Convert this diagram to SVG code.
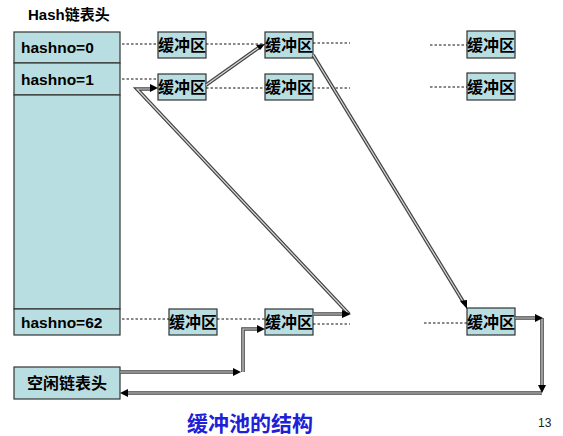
<svg xmlns="http://www.w3.org/2000/svg" width="563" height="436" viewBox="0 0 563 436">
<style>
.cell{fill:#b9dee2;stroke:#333;stroke-width:1.2}
.buf{fill:#b9dee2;stroke:#333;stroke-width:1.2}
.t{font-family:"Liberation Sans","Noto Sans CJK SC",sans-serif;font-weight:bold;fill:#000}
.bt{font-family:"Liberation Sans","Noto Sans CJK SC",sans-serif;font-weight:bold;font-size:16px;fill:#000;text-anchor:middle}
.dash{stroke:#111;stroke-width:1;stroke-dasharray:2.5,2;fill:none}
.outer{stroke:#444;stroke-width:3.6;fill:none;stroke-linejoin:miter}
.inner{stroke:#d8d8d8;stroke-width:1.2;fill:none;stroke-linejoin:miter}
</style>
<rect width="563" height="436" fill="#fff"/>
<text class="t" x="28" y="20" font-size="15">Hash链表头</text>
<g id="hashtable">
<rect class="cell" x="14" y="32" width="106" height="31"/>
<rect class="cell" x="14" y="63" width="106" height="32"/>
<rect class="cell" x="14" y="95" width="106" height="214"/>
<rect class="cell" x="14" y="309" width="106" height="26"/>
<text class="t" x="21" y="53" font-size="15.5">hashno=0</text>
<text class="t" x="21" y="85" font-size="15.5">hashno=1</text>
<text class="t" x="21" y="328" font-size="15.5">hashno=62</text>
</g>
<g id="freehead">
<rect class="cell" x="14" y="367" width="106" height="32"/>
<text class="t" x="67" y="389" font-size="16" text-anchor="middle">空闲链表头</text>
</g>
<g id="buf0a"><rect class="buf" x="158" y="32" width="48" height="26"/><text class="bt" x="182" y="51">缓冲区</text></g>
<g id="buf0b"><rect class="buf" x="265" y="32" width="48" height="26"/><text class="bt" x="289" y="51">缓冲区</text></g>
<g id="buf0c"><rect class="buf" x="467" y="31" width="48" height="27"/><text class="bt" x="491" y="51">缓冲区</text></g>
<g id="buf1a"><rect class="buf" x="158" y="74" width="48" height="26"/><text class="bt" x="182" y="93">缓冲区</text></g>
<g id="buf1b"><rect class="buf" x="265" y="74" width="48" height="26"/><text class="bt" x="289" y="93">缓冲区</text></g>
<g id="buf1c"><rect class="buf" x="467" y="73" width="48" height="27"/><text class="bt" x="491" y="93">缓冲区</text></g>
<g id="buf62a"><rect class="buf" x="169" y="309" width="48" height="26"/><text class="bt" x="193" y="328">缓冲区</text></g>
<g id="buf62b"><rect class="buf" x="265" y="309" width="48" height="26"/><text class="bt" x="289" y="328">缓冲区</text></g>
<g id="buf62c"><rect class="buf" x="467" y="308" width="48" height="27"/><text class="bt" x="491" y="328">缓冲区</text></g>
<g id="connectors">
<path class="dash" d="M122,44 H158 M206,44 H265 M313,43 H350 M430,45 H467"/>
<path class="dash" d="M122,79 H158 M206,88 H265 M313,88 H350 M430,87 H467"/>
<path class="dash" d="M122,319 H169 M217,319 H265 M313,324 H350 M424,323 H467"/>
<g>
<path class="outer" d="M206,85 L261,46"/>
<path class="inner" d="M206,85 L261,46"/>
<path d="M265,44 L256,45 L260,50 Z" fill="#000"/>
</g>
<g>
<path class="outer" d="M313,55 L464,303"/>
<path class="inner" d="M313,55 L464,303"/>
<path d="M467,309 L460,301 L467,300 Z" fill="#000"/>
</g>
<g>
<path class="outer" d="M313,314 H344 M349,314 L137,89 H152"/>
<path class="inner" d="M313,314 H344 M349,314 L137,89 H152"/>
<path d="M351,314 L342,310 L342,318 Z" fill="#000"/>
<path d="M158,88 L150,84 L150,92 Z" fill="#000"/>
</g>
<g>
<path class="outer" d="M120,372 H235 M243,372 V329 H259"/>
<path class="inner" d="M120,372 H235 M243,372 V329 H259"/>
<path d="M241,372 L233,368 L233,376 Z" fill="#000"/>
<path d="M265,329 L257,325 L257,333 Z" fill="#000"/>
</g>
<g>
<path class="outer" d="M515,318 H536 M542,318 V386 M542,393 H127"/>
<path class="inner" d="M515,318 H536 M542,318 V386 M542,393 H127"/>
<path d="M543,318 L535,314 L535,322 Z" fill="#000"/>
<path d="M542,393 L538,385 L546,385 Z" fill="#000"/>
<path d="M120,393 L128,389 L128,397 Z" fill="#000"/>
</g>
</g>
<text x="187" y="431" font-family="'Liberation Sans','Noto Sans CJK SC',sans-serif" font-weight="bold" font-size="21" fill="#2020d8">缓冲池的结构</text>
<text x="538" y="427" font-family="'Liberation Sans',sans-serif" font-size="12" fill="#222">13</text>
</svg>
